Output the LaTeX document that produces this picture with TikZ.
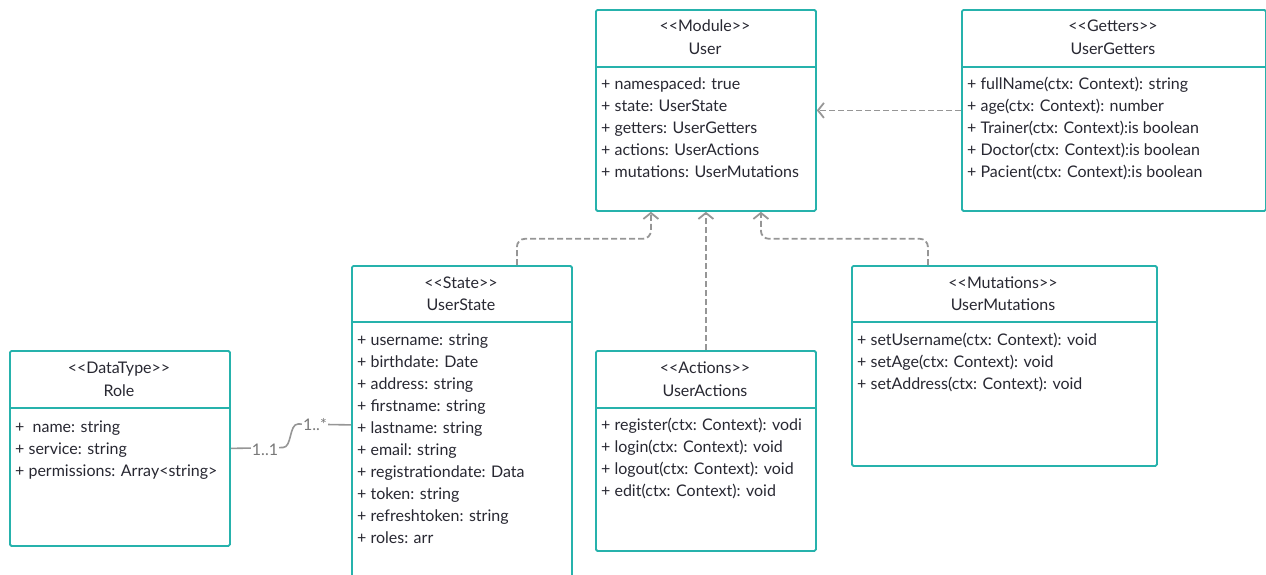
\documentclass[tikz,border=0pt]{standalone}
\usepackage{fontspec}
\setmainfont{Lato}
\usetikzlibrary{arrows.meta,positioning}
\definecolor{umlteal}{RGB}{38,178,172}
\definecolor{linkgray}{RGB}{150,150,150}
\definecolor{inkgray}{RGB}{40,40,50}

\begin{document}
\begin{tikzpicture}[x=1pt,y=-1pt,
  classbox/.style={draw=umlteal,line width=1.8pt,rounded corners=1.5pt,fill=white,inner sep=0pt,anchor=north west},
  headline/.style={draw=umlteal,line width=1.8pt},
  classhead/.style={text=inkgray,font=\fontsize{16}{18}\selectfont,inner sep=0pt,text height=11.5pt,text depth=3.5pt,yshift=-1.5pt},
  classattr/.style={classhead,anchor=west},
  dep/.style={draw=linkgray,line width=1.8pt,dash pattern=on 6pt off 3pt,rounded corners=8pt,-{Straight Barb[length=6pt,width=15pt]}},
  assoc/.style={draw=linkgray,line width=1.6pt},
  mult/.style={text=linkgray!80!black,font=\fontsize{16}{18}\selectfont,fill=white,inner sep=1pt}
]
\useasboundingbox (0,0) rectangle (1266,574);
\clip (0,0) rectangle (1266,574);

% class boxes
\node[classbox,minimum width=220pt,minimum height=201pt] (user) at (595,9) {};
\node[classbox,minimum width=304pt,minimum height=201pt] (getters) at (961,9) {};
\node[classbox,minimum width=220pt,minimum height=318pt] (state) at (351,265) {};
\node[classbox,minimum width=220pt,minimum height=195pt] (role) at (9,350) {};
\node[classbox,minimum width=220pt,minimum height=200pt] (actions) at (595,350) {};
\node[classbox,minimum width=305pt,minimum height=200pt] (mutations) at (851,265) {};

\draw[headline] ([yshift=-58pt]user.north west) -- ([yshift=-58pt]user.north east);
\draw[headline] ([yshift=-58pt]getters.north west) -- ([yshift=-58pt]getters.north east);
\draw[headline] ([yshift=-57pt]state.north west) -- ([yshift=-57pt]state.north east);
\draw[headline] ([yshift=-58pt]role.north west) -- ([yshift=-58pt]role.north east);
\draw[headline] ([yshift=-58pt]actions.north west) -- ([yshift=-58pt]actions.north east);
\draw[headline] ([yshift=-57pt]mutations.north west) -- ([yshift=-57pt]mutations.north east);

% User
\node[classhead] (user-st) at (705,26) {<{}<Module>{}>};
\node[classhead] (user-nm) at (705,49) {User};
\node[classattr] (user-a1) at (601,84) {+ namespaced: true};
\node[classattr] (user-a2) at (601,106) {+ state: UserState};
\node[classattr] (user-a3) at (601,128) {+ getters: UserGetters};
\node[classattr] (user-a4) at (601,150) {+ actions: UserActions};
\node[classattr] (user-a5) at (601,172) {+ mutations: UserMutations};

% UserGetters
\node[classhead] (getters-st) at (1113,26) {<{}<Getters>{}>};
\node[classhead] (getters-nm) at (1113,49) {UserGetters};
\node[classattr] (getters-a1) at (967,84) {+ fullName(ctx: Context): string};
\node[classattr] (getters-a2) at (967,106) {+ age(ctx: Context): number};
\node[classattr] (getters-a3) at (967,128) {+ Trainer(ctx: Context):is boolean};
\node[classattr] (getters-a4) at (967,150) {+ Doctor(ctx: Context):is boolean};
\node[classattr] (getters-a5) at (967,172) {+ Pacient(ctx: Context):is boolean};

% UserState
\node[classhead] (state-st) at (461,283) {<{}<State>{}>};
\node[classhead] (state-nm) at (461,305) {UserState};
\node[classattr] (state-a1) at (357,340) {+ username: string};
\node[classattr] (state-a2) at (357,362) {+ birthdate: Date};
\node[classattr] (state-a3) at (357,384) {+ address: string};
\node[classattr] (state-a4) at (357,406) {+ firstname: string};
\node[classattr] (state-a5) at (357,428) {+ lastname: string};
\node[classattr] (state-a6) at (357,450) {+ email: string};
\node[classattr] (state-a7) at (357,472) {+ registrationdate: Data};
\node[classattr] (state-a8) at (357,494) {+ token: string};
\node[classattr] (state-a9) at (357,516) {+ refreshtoken: string};
\node[classattr] (state-a10) at (357,538) {+ roles: arr};

% Role
\node[classhead] (role-st) at (119,368) {<{}<DataType>{}>};
\node[classhead] (role-nm) at (119,391) {Role};
\node[classattr] (role-a1) at (15,427) {+ \ name: string};
\node[classattr] (role-a2) at (15,449) {+ service: string};
\node[classattr] (role-a3) at (15,471) {+ permissions: Array<string>};

% UserActions
\node[classhead] (actions-st) at (705,368) {<{}<Actions>{}>};
\node[classhead] (actions-nm) at (705,391) {UserActions};
\node[classattr] (actions-a1) at (601,425) {+ register(ctx: Context): vodi};
\node[classattr] (actions-a2) at (601,447) {+ login(ctx: Context): void};
\node[classattr] (actions-a3) at (601,469) {+ logout(ctx: Context): void};
\node[classattr] (actions-a4) at (601,491) {+ edit(ctx: Context): void};

% UserMutations
\node[classhead] (mutations-st) at (1003,283) {<{}<Mutations>{}>};
\node[classhead] (mutations-nm) at (1003,305) {UserMutations};
\node[classattr] (mutations-a1) at (857,340) {+ setUsername(ctx: Context): void};
\node[classattr] (mutations-a2) at (857,362) {+ setAge(ctx: Context): void};
\node[classattr] (mutations-a3) at (857,384) {+ setAddress(ctx: Context): void};

% dependencies
\draw[dep] (getters.west) -- (user.east);
\draw[dep] (actions.north) -- (user.south);
\draw[dep] ([xshift=55pt]state.north) |- ([xshift=-55pt,yshift=-27pt]user.south) -- ([xshift=-55pt]user.south);
\draw[dep] ([xshift=-76.5pt]mutations.north) |- ([xshift=55pt,yshift=-27pt]user.south) -- ([xshift=55pt]user.south);

% association Role -- UserState
\coordinate (bendlo) at (283,447.5);
\coordinate (bendhi) at (298,424);
\draw[assoc] (role.east) -- (bendlo) .. controls (292,447.5) and (289,424) .. (bendhi) -- (state.west);
\node[mult] (m-role) at (265,450) {1..1};
\node[mult] (m-state) at (315,425) {1..*};

\end{tikzpicture}
\end{document}
